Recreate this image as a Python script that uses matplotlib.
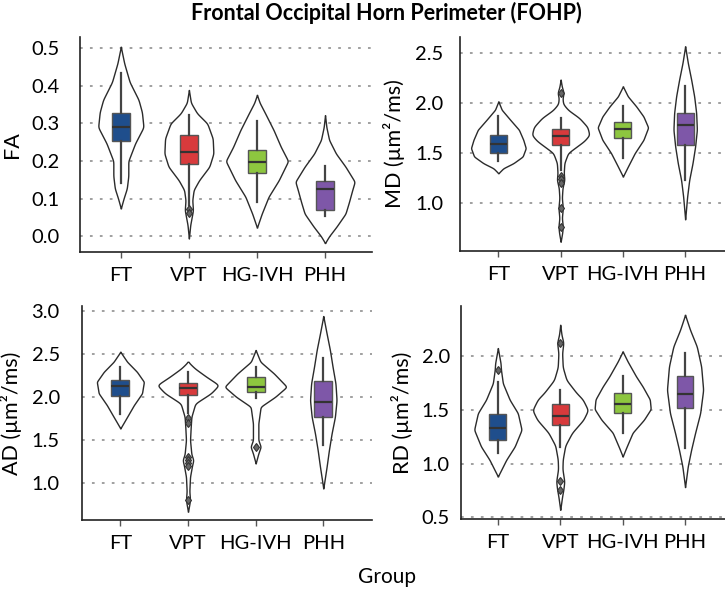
import matplotlib.pyplot as plt
from matplotlib.ticker import FormatStrFormatter
import numpy as np

plt.rcParams['font.family'] = ['Lato', 'DejaVu Sans']

groups = ['FT', 'VPT', 'HG-IVH', 'PHH']
box_colors = ['#1f4e8c', '#d83a3c', '#8dc63f', '#7e57a8']

# FA
fa_q1 = [0.253, 0.191, 0.167, 0.071]
fa_med = [0.291, 0.223, 0.198, 0.125]
fa_q3 = [0.329, 0.269, 0.229, 0.147]
fa_lo = [0.142, 0.082, 0.091, 0.053]
fa_hi = [0.433, 0.322, 0.307, 0.186]
fa_out = [[], [0.072, 0.062], [], []]
# violin outline: (value, half width)
fa_shape = [
    [(0.074, 0), (0.1, 0.04), (0.127, 0.088), (0.16, 0.11), (0.2, 0.11), (0.247, 0.21),
     (0.29, 0.333), (0.33, 0.31), (0.363, 0.26), (0.41, 0.13), (0.46, 0.05), (0.504, 0)],
    [(-0.006, 0), (0.03, 0.02), (0.069, 0.06), (0.096, 0.05), (0.123, 0.07), (0.149, 0.15),
     (0.185, 0.3), (0.22, 0.36), (0.26, 0.35), (0.3, 0.27), (0.327, 0.12), (0.355, 0.03), (0.389, 0)],
    [(0.023, 0), (0.06, 0.07), (0.105, 0.17), (0.149, 0.32), (0.2, 0.458), (0.238, 0.35),
     (0.282, 0.245), (0.327, 0.12), (0.355, 0.04), (0.376, 0)],
    [(-0.018, 0), (0.0, 0.06), (0.026, 0.17), (0.06, 0.3), (0.09, 0.35), (0.123, 0.40),
     (0.145, 0.436), (0.185, 0.3), (0.22, 0.16), (0.256, 0.06), (0.29, 0.02), (0.322, 0)],
]

# MD
md_q1 = [1.504, 1.581, 1.648, 1.575]
md_med = [1.591, 1.665, 1.738, 1.775]
md_q3 = [1.678, 1.742, 1.808, 1.899]
md_lo = [1.424, 1.33, 1.448, 1.23]
md_hi = [1.872, 1.848, 1.972, 2.173]
md_out = [[], [2.10, 1.27, 1.235, 1.197, 0.947, 0.763], [], []]
md_shape = [
    [(1.297, 0), (1.347, 0.08), (1.397, 0.24), (1.464, 0.39), (1.548, 0.44), (1.631, 0.40),
     (1.732, 0.33), (1.832, 0.19), (1.932, 0.054), (2.016, 0)],
    [(0.612, 0), (0.70, 0.025), (0.763, 0.035), (0.85, 0.02), (0.947, 0.035), (1.05, 0.02),
     (1.15, 0.03), (1.23, 0.06), (1.30, 0.05), (1.40, 0.06), (1.50, 0.12), (1.56, 0.25),
     (1.62, 0.38), (1.68, 0.462), (1.76, 0.43), (1.85, 0.3), (1.93, 0.12), (1.99, 0.04),
     (2.05, 0.03), (2.10, 0.05), (2.16, 0.02), (2.233, 0)],
    [(1.264, 0), (1.364, 0.08), (1.498, 0.19), (1.631, 0.33), (1.755, 0.406), (1.865, 0.33),
     (1.965, 0.215), (2.066, 0.08), (2.166, 0)],
    [(0.836, 0), (1.063, 0.032), (1.23, 0.065), (1.397, 0.118), (1.564, 0.16), (1.732, 0.188),
     (1.9, 0.177), (2.066, 0.145), (2.233, 0.097), (2.40, 0.043), (2.567, 0)],
]

# AD
ad_q1 = [2.008, 2.019, 2.058, 1.767]
ad_med = [2.128, 2.097, 2.109, 1.942]
ad_q3 = [2.194, 2.163, 2.233, 2.186]
ad_lo = [1.798, 1.806, 1.98, 1.438]
ad_hi = [2.341, 2.29, 2.341, 2.446]
ad_out = [[], [1.749, 1.69, 1.30, 1.264, 1.225, 1.20, 0.80], [1.42], []]
ad_shape = [
    [(1.632, 0), (1.767, 0.1), (1.903, 0.2), (2.04, 0.32), (2.174, 0.348), (2.29, 0.245),
     (2.407, 0.1), (2.523, 0)],
    [(0.663, 0), (0.75, 0.02), (0.80, 0.03), (0.9, 0.02), (1.07, 0.03), (1.2, 0.06),
     (1.264, 0.08), (1.33, 0.05), (1.496, 0.03), (1.65, 0.04), (1.767, 0.05), (1.922, 0.108),
     (2.04, 0.34), (2.136, 0.456), (2.233, 0.27), (2.33, 0.1), (2.407, 0)],
    [(1.225, 0), (1.341, 0.04), (1.419, 0.075), (1.496, 0.04), (1.69, 0.04), (1.884, 0.074),
     (2.0, 0.29), (2.116, 0.46), (2.271, 0.27), (2.407, 0.07), (2.543, 0)],
    [(0.934, 0), (1.186, 0.049), (1.38, 0.083), (1.574, 0.123), (1.767, 0.172), (1.96, 0.196),
     (2.155, 0.18), (2.349, 0.137), (2.543, 0.098), (2.736, 0.049), (2.938, 0)],
]

# RD
rd_q1 = [1.217, 1.363, 1.469, 1.519]
rd_med = [1.332, 1.447, 1.556, 1.652]
rd_q3 = [1.463, 1.556, 1.658, 1.814]
rd_lo = [1.099, 1.16, 1.286, 1.146]
rd_hi = [1.758, 1.689, 1.82, 2.031]
rd_out = [[1.876], [2.13, 0.835, 0.758], [], []]
rd_shape = [
    [(0.882, 0), (0.944, 0.054), (1.037, 0.134), (1.161, 0.27), (1.317, 0.38), (1.472, 0.32),
     (1.596, 0.19), (1.75, 0.08), (1.876, 0.05), (1.938, 0.043), (2.078, 0)],
    [(0.571, 0), (0.696, 0.03), (0.76, 0.05), (0.835, 0.065), (0.95, 0.035), (1.04, 0.04),
     (1.17, 0.08), (1.29, 0.19), (1.41, 0.37), (1.5, 0.445), (1.6, 0.36), (1.66, 0.26),
     (1.78, 0.10), (1.9, 0.04), (2.03, 0.03), (2.13, 0.05), (2.2, 0.02), (2.295, 0)],
    [(1.068, 0), (1.146, 0.054), (1.255, 0.134), (1.29, 0.16), (1.41, 0.34), (1.51, 0.45),
     (1.6, 0.435), (1.72, 0.32), (1.814, 0.215), (1.953, 0.08), (2.047, 0)],
    [(0.783, 0), (0.975, 0.043), (1.13, 0.097), (1.286, 0.16), (1.472, 0.242), (1.689, 0.29),
     (1.907, 0.258), (2.093, 0.188), (2.248, 0.08), (2.388, 0)],
]


def outline(pts):
    v, w = np.array(pts, dtype=float).T
    y = np.linspace(v[0], v[-1], 400)
    x = np.interp(y, v, w)
    k = np.exp(-0.5 * (np.arange(-12, 13) / 4.0) ** 2)
    k /= k.sum()
    x = np.convolve(np.pad(x, 12, mode='edge'), k, mode='valid')
    return y, x


def panel(ax, q1, med, q3, lo, hi, out, shape, label, ylim, yticks, xlim, lab_x, ypad):
    for i, pts in enumerate(shape):
        y, w = outline(pts)
        ax.fill_betweenx(y, i - w, i + w, facecolor='white', edgecolor='#2b2b2b',
                         lw=1.0, zorder=2)
    stats = [dict(q1=q1[i], med=med[i], q3=q3[i], whislo=lo[i], whishi=hi[i],
                  fliers=out[i]) for i in range(len(groups))]
    bp = ax.bxp(stats, positions=range(len(groups)), widths=0.27, patch_artist=True,
                showcaps=False, manage_ticks=False,
                boxprops=dict(edgecolor='#555555', lw=1.0),
                medianprops=dict(color='#333333', lw=1.6),
                whiskerprops=dict(color='#444444', lw=1.6),
                flierprops=dict(marker='d', markersize=4.5, markerfacecolor='#666666',
                                markeredgecolor='#333333', markeredgewidth=0.8))
    for patch, c in zip(bp['boxes'], box_colors):
        patch.set_facecolor(c)
    for artist in bp['boxes'] + bp['medians'] + bp['whiskers'] + bp['fliers']:
        artist.set_zorder(3)
    ax.set_xlim(xlim)
    ax.set_ylim(ylim)
    ax.set_yticks(yticks)
    ax.yaxis.set_major_formatter(FormatStrFormatter('%.1f'))
    ax.set_xticks(range(len(groups)))
    ax.set_xticklabels(groups)
    ax.set_ylabel(label, fontsize=15.5)
    ax.yaxis.set_label_coords(lab_x, 0.5)
    ax.grid(axis='y', ls=(0, (1.5, 4)), color='#999999', lw=1.3, zorder=0)
    ax.set_axisbelow(True)
    for s in ['top', 'right']:
        ax.spines[s].set_visible(False)
    for s in ['left', 'bottom']:
        ax.spines[s].set_linewidth(1.2)
        ax.spines[s].set_color('#222222')
    ax.tick_params(axis='y', length=0, labelsize=14.5, pad=ypad)
    ax.tick_params(axis='x', length=4, width=1, color='#555555', labelsize=14.5, pad=7)


fig = plt.figure(figsize=(7.25, 5.9), dpi=100)
ax1 = fig.add_axes([0.1103, 0.5729, 0.4028, 0.3644])
ax2 = fig.add_axes([0.6345, 0.5746, 0.3655, 0.3627])
ax3 = fig.add_axes([0.1131, 0.1186, 0.4, 0.3627])
ax4 = fig.add_axes([0.6359, 0.1203, 0.3641, 0.361])

panel(ax1, fa_q1, fa_med, fa_q3, fa_lo, fa_hi, fa_out, fa_shape, 'FA',
      (-0.042, 0.53), np.arange(0, 0.51, 0.1), (-0.6, 3.69), -0.2, 15)
panel(ax2, md_q1, md_med, md_q3, md_lo, md_hi, md_out, md_shape, 'MD (µm²/ms)',
      (0.519, 2.66), [1.0, 1.5, 2.0, 2.5], (-0.616, 3.64), -0.208, 12)
panel(ax3, ad_q1, ad_med, ad_q3, ad_lo, ad_hi, ad_out, ad_shape, 'AD (µm²/ms)',
      (0.566, 3.055), [1.0, 1.5, 2.0, 2.5, 3.0], (-0.567, 3.72), -0.207, 16)
panel(ax4, rd_q1, rd_med, rd_q3, rd_lo, rd_hi, rd_out, rd_shape, 'RD (µm²/ms)',
      (0.485, 2.47), [0.5, 1.0, 1.5, 2.0], (-0.59, 3.64), -0.182, 8)

fig.text(386 / 725, 1 - 13 / 590, 'Frontal Occipital Horn Perimeter (FOHP)',
         ha='center', va='center', fontsize=15.5, fontweight='bold')
fig.text(387 / 725, 1 - 577 / 590, 'Group', ha='center', va='center', fontsize=15)

fig.savefig('out.png', dpi=100)
